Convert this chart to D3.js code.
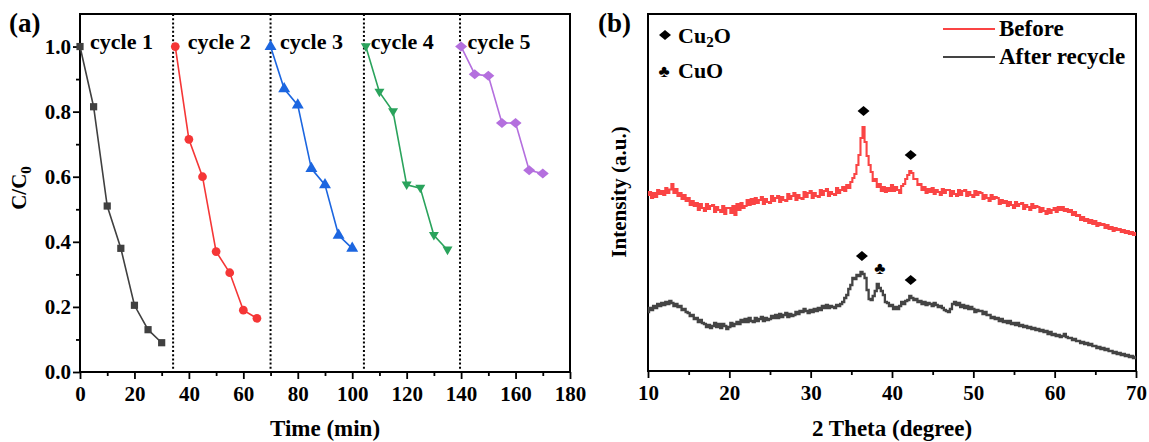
<!DOCTYPE html>
<html>
<head>
<meta charset="utf-8">
<script src="https://cdn.jsdelivr.net/npm/d3@7"></script>
<style>
  body { margin: 0; background: #fff; }
  text { font-family: "Liberation Serif", "Times New Roman", serif; font-weight: bold; fill: #000; }
</style>
</head>
<body>
<svg id="chart" width="1149" height="442"></svg>
<script>
// ---------- (a) C/C0 over five degradation cycles ----------
const cycleNames = ["cycle 1", "cycle 2", "cycle 3", "cycle 4", "cycle 5"];
const cycleTimes = [
  [0, 5, 10, 15, 20, 25, 30],
  [35, 40, 45, 50, 55, 60, 65],
  [70, 75, 80, 85, 90, 95, 100],
  [105, 110, 115, 120, 125, 130, 135],
  [140, 145, 150, 155, 160, 165, 170]
];
const cycleRatios = [
  [1.0, 0.815, 0.51, 0.38, 0.205, 0.13, 0.09],
  [1.0, 0.715, 0.60, 0.37, 0.305, 0.19, 0.165],
  [1.0, 0.87, 0.82, 0.625, 0.575, 0.42, 0.38],
  [1.0, 0.86, 0.80, 0.575, 0.565, 0.42, 0.375],
  [1.0, 0.915, 0.91, 0.765, 0.765, 0.62, 0.61]
];
const cycleBreaks = [34.2, 70, 104.3, 139.6];
const timeTicks = [0, 20, 40, 60, 80, 100, 120, 140, 160, 180];
const timeMinorTicks = [10, 30, 50, 70, 90, 110, 130, 150, 170];
const ratioTicks = [0, 0.2, 0.4, 0.6, 0.8, 1.0];
const ratioMinorTicks = [0.1, 0.3, 0.5, 0.7, 0.9];

// ---------- (b) XRD patterns, 2θ from 10° to 70° in 0.25° steps ----------
const thetaStart = 10, thetaStep = 0.25;
const intensityBefore = [
  352,358,346,356, 348,362,354,360, 352,366,356,363, 374,356,364,350,
  356,344,352,340, 346,332,340,330, 336,322,334,326, 320,334,324,330,
  332,318,328,322, 318,330,314,326, 326,316,330,312, 334,322,336,326,
  330,342,332,344, 334,346,336,342, 348,334,344,338, 336,350,340,346,
  350,338,348,342, 340,354,344,350, 356,342,352,346, 344,358,348,356,
  360,346,356,350, 348,362,352,360, 364,350,358,354, 352,366,356,362,
  368,360,372,366, 378,386,394,412, 432,466,488,458, 430,412,398,380,
  384,368,374,360, 368,358,366,360, 372,360,368,362, 356,370,374,384,
  392,400,396,384, 384,372,374,362, 368,356,364,358, 366,354,362,358,
  352,364,356,362, 362,350,360,354, 350,362,352,360, 362,350,358,352,
  348,360,352,358, 356,344,352,346, 340,352,344,348, 346,334,342,336,
  340,330,338,332, 326,338,330,334, 336,324,332,328, 322,334,326,330,
  328,318,326,320, 314,324,316,322, 326,318,328,322, 328,320,324,318,
  322,312,318,310, 312,302,308,300, 304,296,302,294, 300,290,296,292,
  294,286,292,284, 288,280,286,282, 284,278,282,276, 280,274,278,272,
  276
];
const intensityAfter = [
  118,126,122,130, 126,134,130,136, 132,138,134,140, 136,130,134,128,
  130,122,124,118, 116,110,112,104, 106,98,102,96, 94,88,92,86,
  90,96,88,94, 86,94,90,84, 88,96,90,94, 98,94,102,98,
  104,98,106,100, 98,106,100,104, 108,100,106,102, 104,110,106,112,
  106,114,108,112, 116,108,114,110, 112,118,114,120, 118,124,120,116,
  122,118,124,120, 126,122,130,126, 132,126,130,128, 126,132,130,134,
  138,146,152,164, 172,186,184,192, 190,198,194,186, 162,144,142,150,
  160,174,166,160, 152,138,136,130, 132,124,128,124, 130,138,134,140,
  142,150,146,142, 144,138,140,134, 138,132,136,134, 130,136,132,128,
  130,126,122,120, 118,124,134,138, 132,136,128,132, 126,130,124,128,
  124,118,122,120, 120,114,118,112, 112,106,108,104, 106,100,104,98,
  100,96,100,94, 96,92,96,90, 92,88,90,86, 88,84,86,82,
  84,80,82,78, 80,74,78,72, 74,70,72,68, 70,74,68,66,
  66,62,64,60, 60,56,58,54, 56,52,54,50, 50,46,48,44,
  46,42,44,40, 40,36,38,34, 36,32,34,30, 32,28,30,26,
  28
];
const thetaTicks = [10, 20, 30, 40, 50, 60, 70];
const thetaMinorTicks = [15, 25, 35, 45, 55, 65];
const seriesNames = ["Before", "After recycle"];
// indexed peaks: phase 0 = Cu2O, phase 1 = CuO
const peaksBefore = [{ theta: 36.5, phase: 0 }, { theta: 42.3, phase: 0 }];
const peaksAfter = [{ theta: 36.3, phase: 0 }, { theta: 38.5, phase: 1 }, { theta: 42.3, phase: 0 }];

// ---------- drawing ----------
const svg = d3.select("#chart");
const cycleColors = ["#404040", "#f53636", "#1c66e0", "#2aa35c", "#b46fde"];
const xrdColors = ["#fa4444", "#444444"];
const tickFont = 21;

function styleAxis(g) {
  g.select(".domain").remove();
  g.selectAll(".tick line").attr("stroke", "#000").attr("stroke-width", 1.8);
  g.selectAll(".tick text").attr("font-size", tickFont).attr("font-family", null).attr("fill", "#000");
}

// ===== Panel (a) =====
const ax = { left: 80, right: 570, top: 14, bottom: 372 };
const xA = d3.scaleLinear().domain([0, 180]).range([ax.left, ax.right]);
const yA = d3.scaleLinear().domain([0, 1.1]).range([ax.bottom, ax.top]);

const gA = svg.append("g");
gA.append("g").attr("transform", `translate(0,${ax.bottom})`)
  .call(d3.axisBottom(xA).tickValues(timeTicks).tickFormat(d3.format("d")).tickSize(7).tickPadding(7).tickSizeOuter(0))
  .call(styleAxis);
gA.append("g").attr("transform", `translate(0,${ax.bottom})`)
  .call(d3.axisBottom(xA).tickValues(timeMinorTicks).tickFormat("").tickSize(4).tickSizeOuter(0))
  .call(styleAxis);
gA.append("g").attr("transform", `translate(${ax.left},0)`)
  .call(d3.axisLeft(yA).tickValues(ratioTicks).tickFormat(d3.format(".1f")).tickSize(7).tickPadding(2).tickSizeOuter(0))
  .call(styleAxis);
gA.append("g").attr("transform", `translate(${ax.left},0)`)
  .call(d3.axisLeft(yA).tickValues(ratioMinorTicks).tickFormat("").tickSize(4).tickSizeOuter(0))
  .call(styleAxis);

gA.append("rect").attr("x", ax.left).attr("y", ax.top)
  .attr("width", ax.right - ax.left).attr("height", ax.bottom - ax.top)
  .attr("fill", "none").attr("stroke", "#000").attr("stroke-width", 2);

// dotted separators between cycles
gA.selectAll("line.sep").data(cycleBreaks).join("line")
  .attr("x1", d => xA(d)).attr("x2", d => xA(d))
  .attr("y1", ax.top).attr("y2", ax.bottom)
  .attr("stroke", "#000").attr("stroke-width", 2).attr("stroke-dasharray", "2,2.2");

const markerPaths = [
  d3.symbol(d3.symbolSquare, 52)(),
  d3.symbol(d3.symbolCircle, 60)(),
  d3.symbol(d3.symbolTriangle, 62)(),
  "M0,5.2L5,-3.4L-5,-3.4Z",
  "M0,-5L6,0L0,5L-6,0Z"
];

const lineA = d3.line().x(d => xA(d[0])).y(d => yA(d[1]));
cycleTimes.forEach((times, i) => {
  const pts = times.map((t, j) => [t, cycleRatios[i][j]]);
  gA.append("path").attr("d", lineA(pts)).attr("fill", "none")
    .attr("stroke", cycleColors[i]).attr("stroke-width", 1.6);
  gA.selectAll(null).data(pts).join("path")
    .attr("d", markerPaths[i])
    .attr("transform", d => `translate(${xA(d[0])},${yA(d[1])})`)
    .attr("fill", cycleColors[i]);
});

// cycle captions beside the first point of each run
const captionShift = [10, 12.5, 9.5, 5, 6.5];
gA.selectAll("text.cap").data(cycleNames).join("text")
  .attr("x", (d, i) => xA(cycleTimes[i][0]) + captionShift[i])
  .attr("y", 49).attr("font-size", 22).text(d => d);

gA.append("text").attr("x", (ax.left + ax.right) / 2).attr("y", 436)
  .attr("text-anchor", "middle").attr("font-size", 23).text("Time (min)");

const yTitleA = gA.append("text")
  .attr("transform", `translate(26,${(ax.top + ax.bottom) / 2 - 5}) rotate(-90)`)
  .attr("text-anchor", "middle").attr("font-size", 21);
yTitleA.append("tspan").text("C/C");
yTitleA.append("tspan").attr("font-size", 15).attr("dy", 5).text("0");

svg.append("text").attr("x", 9).attr("y", 32).attr("font-size", 27).text("(a)");

// ===== Panel (b) =====
const bx = { left: 648, right: 1136, top: 14, bottom: 371 };
const xB = d3.scaleLinear().domain([10, 70]).range([bx.left, bx.right]);
const yB = d3.scaleLinear().domain([0, 714]).range([bx.bottom, bx.top]);
const thetaOf = i => thetaStart + i * thetaStep;

const gB = svg.append("g");
gB.append("g").attr("transform", `translate(0,${bx.bottom})`)
  .call(d3.axisBottom(xB).tickValues(thetaTicks).tickFormat(d3.format("d")).tickSize(7).tickPadding(7).tickSizeOuter(0))
  .call(styleAxis);
gB.append("g").attr("transform", `translate(0,${bx.bottom})`)
  .call(d3.axisBottom(xB).tickValues(thetaMinorTicks).tickFormat("").tickSize(4).tickSizeOuter(0))
  .call(styleAxis);

gB.append("rect").attr("x", bx.left).attr("y", bx.top)
  .attr("width", bx.right - bx.left).attr("height", bx.bottom - bx.top)
  .attr("fill", "none").attr("stroke", "#000").attr("stroke-width", 2);

// step rendering keeps the counter-style jaggedness of the raw scans
const lineB = d3.line().curve(d3.curveStep).x((d, i) => xB(thetaOf(i))).y(d => yB(d));
[intensityBefore, intensityAfter].forEach((series, k) => {
  gB.append("path").attr("d", lineB(series)).attr("fill", "none")
    .attr("stroke", xrdColors[k]).attr("stroke-width", k === 0 ? 2.1 : 2.3)
    .attr("stroke-linejoin", "miter");
});

const diamondPath = "M0,-5L6,0L0,5L-6,0Z";
function drawPhaseMark(g, x, y, phase) {
  if (phase === 0) {
    g.append("path").attr("d", diamondPath).attr("transform", `translate(${x},${y})`).attr("fill", "#000");
  } else {
    g.append("text").attr("x", x).attr("y", y + 6).attr("text-anchor", "middle")
      .attr("font-family", "DejaVu Sans").attr("font-weight", "normal").attr("font-size", 17).text("\u2663");
  }
}
// peak labels sit just above the local maximum of each pattern
[[intensityBefore, peaksBefore], [intensityAfter, peaksAfter]].forEach(([series, peaks]) => {
  peaks.forEach(p => {
    let top = 0;
    series.forEach((v, i) => { if (Math.abs(thetaOf(i) - p.theta) <= 0.5) top = Math.max(top, v); });
    drawPhaseMark(gB, xB(p.theta), yB(top) - 16, p.phase);
  });
});

// phase key
drawPhaseMark(gB, 665, 35, 0);
const cu2o = gB.append("text").attr("x", 678).attr("y", 43).attr("font-size", 22);
cu2o.append("tspan").text("Cu");
cu2o.append("tspan").attr("font-size", 15).attr("dy", 4).text("2");
cu2o.append("tspan").attr("dy", -4).text("O");
drawPhaseMark(gB, 664, 71, 1);
gB.append("text").attr("x", 678).attr("y", 78).attr("font-size", 22).text("CuO");

// series legend
seriesNames.forEach((name, k) => {
  const y = 29 + k * 28;
  gB.append("line").attr("x1", 943).attr("x2", 995).attr("y1", y).attr("y2", y)
    .attr("stroke", xrdColors[k]).attr("stroke-width", 1.8);
  gB.append("text").attr("x", 999).attr("y", y + 7).attr("font-size", 23).text(name);
});

gB.append("text").attr("x", (bx.left + bx.right) / 2).attr("y", 436)
  .attr("text-anchor", "middle").attr("font-size", 23).text("2 Theta (degree)");
gB.append("text").attr("transform", `translate(626,192) rotate(-90)`)
  .attr("text-anchor", "middle").attr("font-size", 21).text("Intensity (a.u.)");

svg.append("text").attr("x", 598).attr("y", 32).attr("font-size", 27).text("(b)");
</script>
</body>
</html>
